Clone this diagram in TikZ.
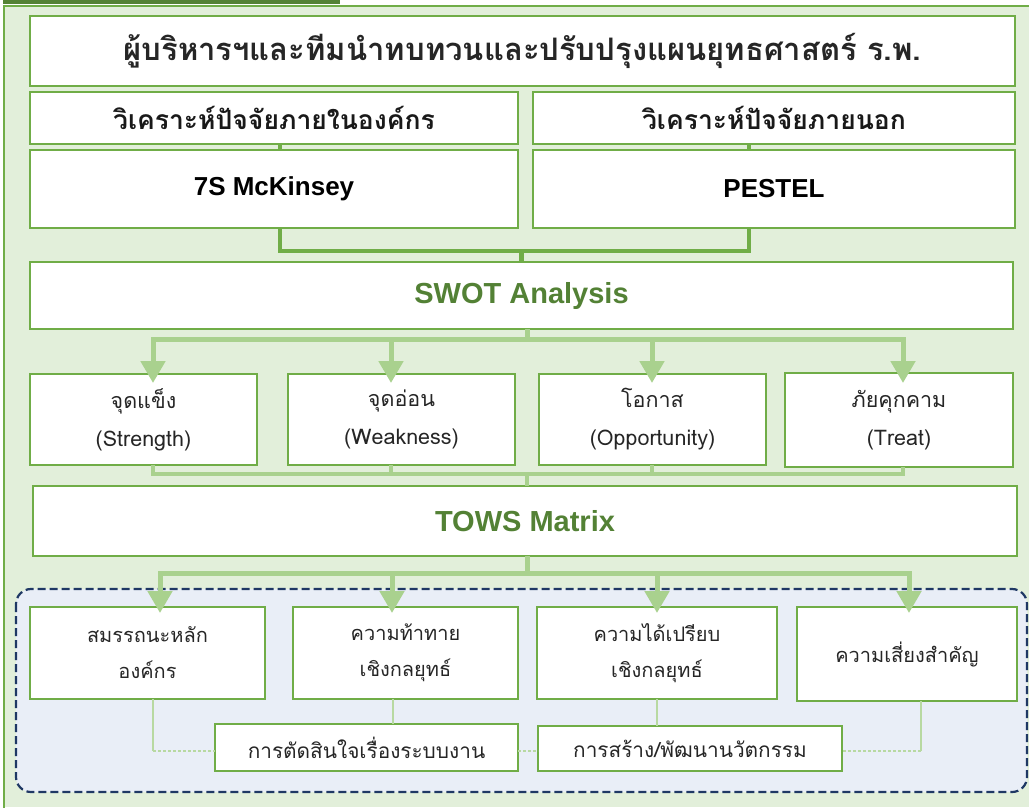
\documentclass[tikz,border=0pt]{standalone}
\usepackage{fontspec}
\setmainfont{Liberation Sans}
\newfontfamily\thai[Script=Thai]{Loma}
\usetikzlibrary{arrows.meta}
\usetikzlibrary{positioning, calc}

\definecolor{leafgreen}{HTML}{70AD47}
\definecolor{darkleaf}{HTML}{548235}
\definecolor{textgreen}{HTML}{538135}
\definecolor{palegreen}{HTML}{E2EFDA}
\definecolor{linkgreen}{HTML}{A9D18E}
\definecolor{thinlink}{HTML}{B8D9A2}
\definecolor{navyline}{HTML}{1F3864}
\definecolor{paleblue}{HTML}{E9EEF7}

\begin{document}
\begin{tikzpicture}[
        x=1pt, y=-1pt,
        box/.style={draw=leafgreen, line width=2.6pt, fill=white,
            inner sep=0pt, outer sep=0pt, align=center},
        trunk/.style={draw=leafgreen, line width=4.5pt},
        bus/.style={draw=linkgreen, line width=5pt},
        busarrow/.style={bus, -{Triangle[length=22pt,width=24pt]}},
        link/.style={draw=thinlink, line width=1.3pt},
        dlink/.style={link, dash pattern=on 3pt off 2pt},
        headtxt/.style={font=\thai\bfseries\fontsize{31}{36}\selectfont, text=black!85},
        subtxt/.style={font=\thai\bfseries\fontsize{26.5}{30}\selectfont, text=black!90},
        tooltxt/.style={font=\bfseries\fontsize{26}{30}\selectfont},
        bigtxt/.style={font=\bfseries\fontsize{29}{34}\selectfont, text=textgreen},
        swottxt/.style={font=\thai\fontsize{21.5}{38}\selectfont, text=black!85},
        towstxt/.style={font=\thai\fontsize{20}{36}\selectfont, text=black!85},
        picktxt/.style={font=\thai\fontsize{20.8}{24}\selectfont, text=black!85}
    ]

    \useasboundingbox (0,0) rectangle (1029,807);

    % Background panel
    \fill[palegreen] (3,5) rectangle (1029,807);
    \draw[leafgreen, line width=2pt] (4,812) -- (4,6) -- (1035,6);
    \fill[darkleaf] (3,0) rectangle (340,4);

    % Dashed region for TOWS results
    \draw[navyline, line width=2.2pt, dash pattern=on 8pt off 4pt,
        fill=paleblue, rounded corners=15pt] (16,589) rectangle (1027,792);

    % Top rows
    \node[box, headtxt, minimum width=985, minimum height=70] (head) at (522.5,51)
        {ผู้บริหารฯและทีมนำทบทวนและปรับปรุงแผนยุทธศาสตร์ ร.พ.};
    \node[box, subtxt, minimum width=488, minimum height=52] (inner) at (274,118)
        {วิเคราะห์ปัจจัยภายในองค์กร};
    \node[box, subtxt, minimum width=482, minimum height=52] (outer) at (774,118)
        {วิเคราะห์ปัจจัยภายนอก};
    \node[box, tooltxt, minimum width=488, minimum height=78] (mck) at (274,189)
        {7S McKinsey};
    \node[box, tooltxt, minimum width=482, minimum height=78] (pestel) at (774,189)
        {PESTEL};

    % Bracket into SWOT
    \coordinate (jl) at (280,251);
    \coordinate (jr) at (749,251);
    \draw[trunk] (inner.south -| jl) -- (mck.north -| jl);
    \draw[trunk] (outer.south -| jr) -- (pestel.north -| jr);
    \draw[trunk] (mck.south -| jl) -- (jl) -- (jr) -- (pestel.south -| jr);

    \node[box, bigtxt, minimum width=983, minimum height=67] (swot) at (521.5,295.5)
        {SWOT Analysis};
    \draw[trunk] (jl -| swot.north) -- (swot.north);

    % SWOT row
    \node[box, swottxt, minimum width=227, minimum height=91] (s1) at (143.5,419.5)
        {จุดแข็ง\\(Strength)};
    \node[box, swottxt, minimum width=227, minimum height=91] (s2) at (401.5,419.5)
        {จุดอ่อน\\(Weakness)};
    \node[box, swottxt, minimum width=227, minimum height=91] (s3) at (652.5,419.5)
        {โอกาส\\(Opportunity)};
    \node[box, swottxt, minimum width=228, minimum height=94] (s4) at (899,420)
        {ภัยคุกคาม\\(Treat)};

    \coordinate (sbus) at (527,339);
    \draw[bus] (swot.south -| sbus) -- (sbus);
    \foreach \t/\x in {s1/153, s2/391, s3/652, s4/903}{
        \coordinate (\t top) at (\x,383);
        \draw[busarrow] (sbus) -| (\t top);
    }

    % Collect into TOWS
    \node[box, bigtxt, minimum width=984, minimum height=70] (tows) at (525,521)
        {TOWS Matrix};
    \coordinate (cbus) at (527,474);
    \foreach \t/\x in {s1/153, s2/391, s3/652, s4/903}{
        \coordinate (\t foot) at (\x,474);
        \draw[bus, line width=4pt] (\t.south -| \t foot) -- (\t foot) -- (cbus);
    }
    \draw[bus, line width=4pt] (cbus) -- (tows.north -| cbus);

    % TOWS results
    \node[box, towstxt, minimum width=235, minimum height=92] (t1) at (147.5,653)
        {สมรรถนะหลัก\\องค์กร};
    \node[box, towstxt, minimum width=225, minimum height=92] (t2) at (405.5,653)
        {ความท้าทาย\\เชิงกลยุทธ์};
    \node[box, towstxt, minimum width=240, minimum height=92] (t3) at (657,653)
        {ความได้เปรียบ\\เชิงกลยุทธ์};
    \node[box, towstxt, minimum width=220, minimum height=94] (t4) at (907,654)
        {ความเสี่ยงสำคัญ};

    \coordinate (tbus) at (527,573);
    \draw[bus] (tows.south -| tbus) -- (tbus);
    \foreach \t/\x in {t1/160, t2/392, t3/657, t4/909}{
        \coordinate (\t top) at (\x,613);
        \draw[busarrow] (tbus) -| (\t top);
    }

    % Decision boxes
    \node[box, picktxt, minimum width=303, minimum height=47] (d1) at (366.5,747.5)
        {การตัดสินใจเรื่องระบบงาน};
    \node[box, picktxt, minimum width=304, minimum height=45] (d2) at (690,748.5)
        {การสร้าง/พัฒนานวัตกรรม};

    \coordinate (k1) at (153,751);
    \coordinate (k2) at (393,0);
    \coordinate (k3) at (657,0);
    \coordinate (k4) at (921,751);
    \draw[link] (t1.south -| k1) -- (k1);
    \draw[dlink] (k1) -- (d1.west |- k1);
    \draw[link] (t2.south -| k2) -- (d1.north -| k2);
    \draw[link] (t3.south -| k3) -- (d2.north -| k3);
    \draw[link] (t4.south -| k4) -- (k4);
    \draw[dlink] (k4) -- (d2.east |- k4);
    \draw[dlink] (d1.east |- k1) -- (d2.west |- k1);

\end{tikzpicture}
\end{document}
